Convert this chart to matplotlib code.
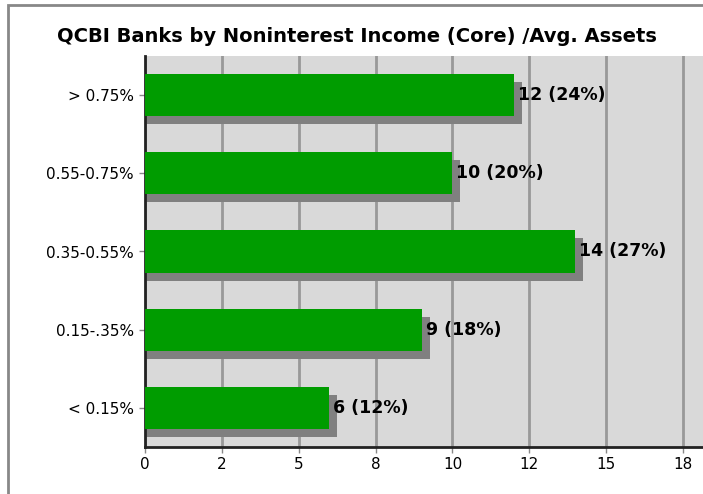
import numpy as np
import matplotlib
matplotlib.use("Agg")
from matplotlib import pyplot as plt
from matplotlib import transforms
from matplotlib.patches import Rectangle

categories = ["< 0.15%", "0.15-.35%", "0.35-0.55%", "0.55-0.75%", "> 0.75%"]
counts = [6, 9, 14, 10, 12]
shares = [12, 18, 27, 20, 24]
ticks = [0, 2.5, 5, 7.5, 10, 12.5, 15, 17.5]
title = "QCBI Banks by Noninterest Income (Core) /Avg. Assets"

W, H = 703, 494
fig = plt.figure(figsize=(W / 100, H / 100), dpi=100)
fig.patch.set_facecolor("white")

# gray frame around the whole picture (only left/top visible)
fig.patches.append(Rectangle((8 / W, -0.1), 1.2, (H - 5) / H + 0.1,
                             transform=fig.transFigure, fill=False,
                             edgecolor="#888888", linewidth=2))

left, bottom, top = 145 / W, (H - 447) / H, (H - 56) / H
ax = fig.add_axes([left, bottom, 1.0 - left, top - bottom])
ax.set_facecolor("#d9d9d9")

xmax = 18.15
ax.set_xlim(0, xmax)
ax.set_ylim(-0.5, len(categories) - 0.5)

y = np.arange(len(categories))
px = xmax / (W - 145)  # data units per pixel
shadow = transforms.ScaledTranslation(0, -8 / 100, fig.dpi_scale_trans)
ax.barh(y, np.array(counts) + 8 * px, height=0.54, color="#808080",
        transform=ax.transData + shadow, zorder=2)
ax.barh(y, counts, height=0.54, color="#009c00", zorder=3)

for yi, c, s in zip(y, counts, shares):
    ax.text(c + 4 * px, yi, "%d (%d%%)" % (c, s), va="center", ha="left",
            fontsize=12.5, fontweight="bold", color="black", zorder=4)

ax.set_xticks(ticks)
ax.set_xticklabels([str(round(t)) for t in ticks])
ax.set_yticks(y)
ax.set_yticklabels(categories)
ax.grid(axis="x", color="#999999", linewidth=2)
ax.set_axisbelow(True)
ax.tick_params(axis="both", colors="#888888", labelcolor="black",
               labelsize=11, length=4, width=1)
ax.tick_params(axis="y", pad=4)

for side in ["top", "right"]:
    ax.spines[side].set_visible(False)
for side in ["left", "bottom"]:
    ax.spines[side].set_linewidth(2)
    ax.spines[side].set_color("#222222")

fig.text((W / 2 + 5) / W, (H - 37) / H, title, ha="center", va="center",
         fontsize=14, fontweight="bold")

fig.savefig("out.png", dpi=100)
